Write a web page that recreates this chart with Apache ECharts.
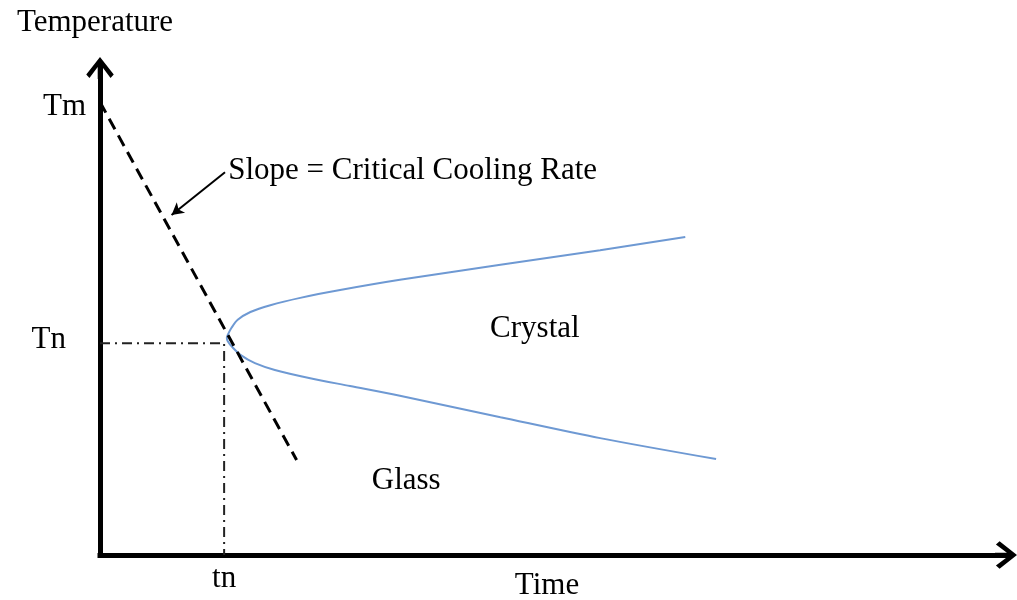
<!DOCTYPE html>
<html>
<head>
<meta charset="utf-8">
<title>Critical cooling rate</title>
<script src="https://cdn.jsdelivr.net/npm/echarts@6/dist/echarts.min.js"></script>
<style>
  html, body { margin: 0; padding: 0; background: #fff; }
  #chart { width: 1017px; height: 600px; }
</style>
</head>
<body>
<div id="chart"></div>
<script>
// Characteristic temperatures / time (schematic units)
const Tm = 93;     // melting temperature
const Tn = 43.5;   // nose temperature
const tn = 13.7;   // nose time

// Straight cooling path whose slope is the critical cooling rate
const coolingPath = [[0, Tm], [21.7, 19.5]];

// Crystallisation onset curve (C-curve): upper branch down to the nose, then lower branch
const curveUpper = [
  [64.6, 65.3], [55.2, 62.6], [44.2, 59.6], [33.1, 56.5], [26.5, 54.4], [22.1, 52.8],
  [18.8, 51.3], [16.6, 49.9], [15.2, 48.3], [14.5, 46.6], [14.1, 45.2], [14.0, 44.6]
];
const curveLower = [
  [14.1, 43.9], [14.6, 42.7], [15.5, 41.1], [17.1, 39.4], [19.3, 38.0], [23.2, 36.3],
  [27.6, 34.7], [33.1, 32.7], [44.2, 28.3], [55.2, 24.0], [68.0, 19.7]
];

// Guide to the nose point
const noseGuide = [[0, Tn], [tn, Tn], [tn, 0]];

// Text
const yTickNames = { Tm: 'Tm', Tn: 'Tn' };
const xTickNames = { tn: 'tn' };
const axisTitles = { x: 'Time', y: 'Temperature' };
const regionNames = ['Crystal', 'Glass'];
const calloutText = 'Slope = Critical Cooling Rate';

// Annotation anchors (data space)
const regionAnchors = [[48.0, 46.4], [33.8, 15.2]];
const calloutTextAnchor = [14.1, 78.9];
const calloutArrow = [[13.8, 78.6], [7.9, 69.8]];

const FONT = 'Liberation Serif';
const TXT = { fontFamily: FONT, fontSize: 31, color: '#000' };

// Open chevron arrowhead (pointing up, with a stem that joins the axis line)
const chevron = 'path://M15,0 L30,19 L26.5,23 L17.5,11 L17.5,24 L12.5,24 L12.5,11 L3.5,23 L0,19 Z';

const chart = echarts.init(document.getElementById('chart'), null, { renderer: 'canvas' });

chart.setOption({
  animation: false,
  backgroundColor: '#fff',
  grid: { left: 100, right: 11, top: 68, bottom: 45, outerBoundsMode: 'none' },
  xAxis: {
    type: 'value', min: 0, max: 100,
    name: axisTitles.x, nameLocation: 'middle', nameGap: 15, nameMoveOverlap: false,
    nameTextStyle: Object.assign({}, TXT, { padding: [0, 12, 0, 0] }),
    axisLine: {
      show: true, symbol: ['none', chevron], symbolSize: [28, 22],
      lineStyle: { color: '#000', width: 5, cap: 'square' }
    },
    axisTick: { show: false },
    splitLine: { show: false },
    axisLabel: Object.assign({}, TXT, {
      customValues: [tn], margin: 8,
      formatter: v => (Math.abs(v - tn) < 1e-6 ? xTickNames.tn : '')
    })
  },
  yAxis: {
    type: 'value', min: 0, max: 100,
    name: axisTitles.y, nameLocation: 'end', nameGap: 30, nameMoveOverlap: false,
    nameTextStyle: Object.assign({}, TXT, { padding: [0, 10, 0, 0] }),
    axisLine: {
      show: true, symbol: ['none', chevron], symbolSize: [28, 22],
      lineStyle: { color: '#000', width: 5, cap: 'square' }
    },
    axisTick: { show: false },
    splitLine: { show: false },
    axisLabel: Object.assign({}, TXT, {
      customValues: [Tn, Tm], margin: 14,
      formatter: v => {
        if (Math.abs(v - Tm) < 1e-6) return '{tm|' + yTickNames.Tm + '}';
        if (Math.abs(v - Tn) < 1e-6) return '{tn|' + yTickNames.Tn + '}';
        return '';
      },
      rich: {
        tm: { fontFamily: FONT, fontSize: 31, color: '#000', padding: [10, 0, 0, 0] },
        tn: { fontFamily: FONT, fontSize: 31, color: '#000', padding: [0, 20, 6, 0] }
      }
    })
  },
  series: [
    {
      name: 'nose guide', type: 'line', data: noseGuide,
      showSymbol: false, silent: true, z: 2,
      lineStyle: { color: '#222', width: 2, type: [10, 5, 2, 5] }
    },
    {
      name: 'C-curve', type: 'line', data: curveUpper.concat(curveLower),
      showSymbol: false, silent: true, smooth: 0.3, z: 3,
      lineStyle: { color: '#6e99d3', width: 2 }
    },
    {
      name: 'cooling path', type: 'line', data: coolingPath,
      showSymbol: false, silent: true, z: 4,
      lineStyle: { color: '#000', width: 3, type: [12, 7] }
    },
    {
      name: 'annotations', type: 'line', data: [], silent: true,
      markLine: {
        silent: true, symbol: ['none', 'arrow'], symbolSize: [10, 12],
        label: { show: false },
        lineStyle: { color: '#000', width: 2, type: 'solid' },
        data: [[{ coord: calloutArrow[0] }, { coord: calloutArrow[1] }]]
      },
      markPoint: {
        silent: true, symbol: 'circle', symbolSize: 1,
        itemStyle: { color: 'rgba(0,0,0,0)' },
        data: [
          {
            coord: calloutTextAnchor,
            label: Object.assign({ show: true, position: 'right', distance: 0, formatter: calloutText }, TXT)
          },
          {
            coord: regionAnchors[0],
            label: Object.assign({ show: true, position: 'inside', formatter: regionNames[0] }, TXT)
          },
          {
            coord: regionAnchors[1],
            label: Object.assign({ show: true, position: 'inside', formatter: regionNames[1] }, TXT)
          }
        ]
      }
    }
  ]
});
</script>
</body>
</html>
